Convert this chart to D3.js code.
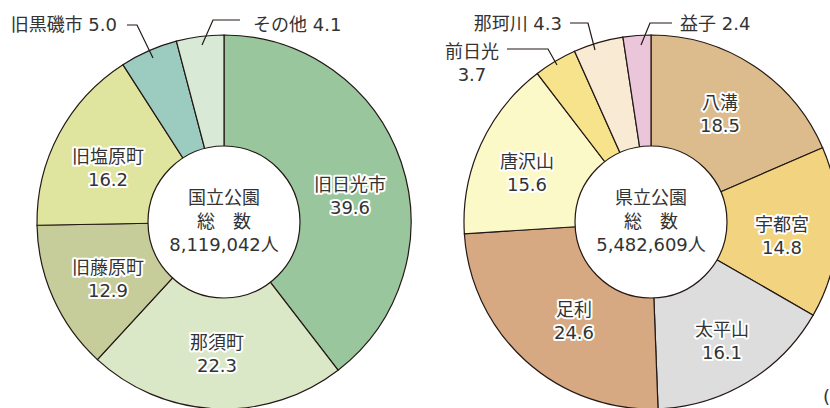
<!DOCTYPE html>
<meta charset="utf-8">
<html>
<head>
  <style>
    body { margin: 0; background: #fff; }
    text { font-family: "DejaVu Sans", "Noto Sans CJK JP", sans-serif; fill: #333; }
    .halo { paint-order: stroke; stroke: #fff; stroke-width: 4px; stroke-linejoin: round; }
  </style>
</head>
<body>
<script src="https://cdn.jsdelivr.net/npm/d3@7"></script>
<script>

// 国立公園 (left)
var npNames  = ["旧日光市", "那須町", "旧藤原町", "旧塩原町", "旧黒磯市", "その他"];
var npValues = [39.6, 22.3, 12.9, 16.2, 5.0, 4.1];
var npColors = ["#99c69c", "#dbe8c8", "#c6cc9a", "#dfe59e", "#9ccbc0", "#d8e9d6"];
var npTitle  = ["国立公園", "総　数", "8,119,042人"];

// 県立公園 (right)
var ppNames  = ["八溝", "宇都宮", "太平山", "足利", "唐沢山", "前日光", "那珂川", "益子"];
var ppValues = [18.5, 14.8, 16.1, 24.6, 15.6, 3.7, 4.3, 2.4];
var ppColors = ["#dcbc8c", "#f2d480", "#dcdddc", "#d6a983", "#fcf9c8", "#f6e38b", "#f9ead3", "#ebc6da"];
var ppTitle  = ["県立公園", "総　数", "5,482,609人"];

var width = 830, height = 408;
var R = 187, r = 76;
var fs = "18px";

var svg = d3.select("body").append("svg")
  .attr("width", width)
  .attr("height", height);

/* inner labels: [dx, dy] offset of the text centre from the donut centre */
var npInner = {0: [126, -37], 1: [-7, 121], 2: [-116, 46], 3: [-116, -65]};
var npOuter = {
  4: {text: ["旧黒磯市 5.0"], tx: 117, ty: 25, anchor: "end", line: [[127, 25], [137, 25], [153, 58]]},
  5: {text: ["その他 4.1"], tx: 253, ty: 25, anchor: "start", line: [[240, 20], [213, 20], [202, 45]]}
};
var ppInner = {0: [69, -119], 1: [131, 3], 2: [71, 108], 3: [-77, 88], 4: [-124, -60]};
var ppOuter = {
  5: {text: ["前日光", "3.7"], tx: 472, ty: 52, anchor: "middle", line: [[507, 49], [548, 49], [557, 65]]},
  6: {text: ["那珂川 4.3"], tx: 562, ty: 24, anchor: "end", line: [[570, 23], [588, 23], [595, 50]]},
  7: {text: ["益子 2.4"], tx: 680, ty: 24, anchor: "start", line: [[672, 23], [650, 23], [641, 45]]}
};

drawDonut(224, 222, npNames, npValues, npColors, npTitle, npInner, npOuter);
drawDonut(651, 222, ppNames, ppValues, ppColors, ppTitle, ppInner, ppOuter);

// cut-off note at the lower right edge
svg.append("text")
  .attr("x", 823).attr("y", 403)
  .style("font-size", fs)
  .text("(");

function drawDonut(cx, cy, names, values, colors, title, inner, outer) {
  var g = svg.append("g").attr("transform", "translate(" + cx + "," + cy + ")");

  var pie = d3.pie().sort(null).value(function(d) { return d; });
  var arc = d3.arc().innerRadius(0).outerRadius(R);
  var arcs = pie(values);

  g.selectAll("path")
    .data(arcs)
    .enter().append("path")
    .attr("d", arc)
    .attr("fill", function(d, i) { return colors[i]; })
    .attr("stroke", "#231815")
    .attr("stroke-width", 1.2);

  g.append("circle")
    .attr("r", r)
    .attr("fill", "#fff")
    .attr("stroke", "#231815")
    .attr("stroke-width", 1.2);

  g.selectAll(".title")
    .data(title)
    .enter().append("text")
    .attr("class", "title")
    .attr("x", 0)
    .attr("y", function(d, i) { return -24 + i * 23.5; })
    .attr("dy", "0.35em")
    .attr("text-anchor", "middle")
    .style("font-size", fs)
    .text(function(d) { return d; });

  arcs.forEach(function(a, i) {
    if (inner[i]) {
      var p = inner[i];
      var t = g.append("text")
        .attr("class", "halo")
        .attr("text-anchor", "middle")
        .style("font-size", fs);
      t.append("tspan").attr("x", p[0]).attr("y", p[1]).attr("dy", "0.35em").text(names[i]);
      t.append("tspan").attr("x", p[0]).attr("y", p[1] + 23).attr("dy", "0.35em").text(d3.format(".1f")(values[i]));
    }
    if (outer[i]) {
      var o = outer[i];
      svg.append("path")
        .attr("d", d3.line()(o.line))
        .attr("fill", "none")
        .attr("stroke", "#231815")
        .attr("stroke-width", 1.2);
      var t2 = svg.append("text")
        .attr("text-anchor", o.anchor)
        .style("font-size", fs);
      o.text.forEach(function(s, k) {
        t2.append("tspan").attr("x", o.tx).attr("y", o.ty + k * 23).attr("dy", "0.35em").text(s);
      });
    }
  });
}

</script>
</body>
</html>
